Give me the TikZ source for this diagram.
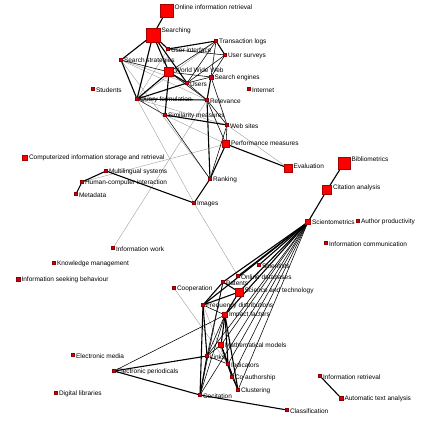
\documentclass[tikz,border=0pt]{standalone}
\usepackage{fontspec}
\setmainfont{Liberation Sans}
\usetikzlibrary{backgrounds}
\definecolor{bigred}{RGB}{255,0,0}
\definecolor{dotred}{RGB}{200,0,30}
\definecolor{edgegray}{RGB}{150,150,150}
\tikzset{
  sq/.style={rectangle, draw=red!65!black, fill=bigred, inner sep=0pt, line width=0.25pt},
  dot/.style={rectangle, draw=red!55!black, fill=dotred, inner sep=0pt, line width=0.25pt},
  lbl/.style={anchor=west, inner sep=0pt, font=\fontsize{6.5}{7}\selectfont},
  thk/.style={line width=1.1pt, black},
  med/.style={line width=0.55pt, black},
  thn/.style={line width=0.35pt, edgegray},
}
\newcommand\nd[5]{\ifnum#4<5\relax
  \node[dot, minimum size=#4pt] (#1) at (#2,#3) {};\else
  \node[sq, minimum size=#4pt] (#1) at (#2,#3) {};\fi
  \node[lbl] (#1l) at ([xshift=1.2pt,yshift=-2.8pt]#1.north east) {#5};}
\newcommand\ed[3]{\draw[#1] (#2.center) -- (#3.center);}
\begin{document}
\begin{tikzpicture}[x=1pt,y=-1pt]
\useasboundingbox (0,0) rectangle (436,436);
\nd{oir}{166.5}{11}{13}{Online information retrieval}
\nd{srch}{153}{35}{14}{Searching}
\nd{ui}{168}{49}{3}{User interface}
\nd{tl}{216}{41}{3}{Transaction logs}
\nd{us}{225}{55}{3}{User surveys}
\nd{ss}{121}{60}{3}{Search strategies}
\nd{www}{169}{72}{9}{World Wide Web}
\nd{usr}{187}{83}{3}{Users}
\nd{se}{211}{77}{4}{Search engines}
\nd{inet}{249}{89}{3}{Internet}
\nd{qf}{137}{99}{3}{Query formulation}
\nd{rel}{207}{100}{3}{Relevance}
\nd{sim}{165}{115}{3}{Similarity measures}
\nd{ws}{227}{125}{3}{Web sites}
\nd{stu}{93}{89}{3}{Students}
\nd{pm}{226}{144}{7}{Performance measures}
\nd{ev}{288}{168}{8}{Evaluation}
\nd{bib}{344}{163}{12}{Bibliometrics}
\nd{ca}{327}{190}{9}{Citation analysis}
\nd{rank}{210}{179}{3}{Ranking}
\nd{img}{194}{203}{3}{Images}
\nd{cisr}{25}{158}{5}{Computerized information storage and retrieval}
\nd{mls}{106}{171}{3}{Multilingual systems}
\nd{hci}{82}{182}{3}{Human-computer interaction}
\nd{meta}{76}{194}{3}{Metadata}
\nd{sci}{308}{222}{5}{Scientometrics}
\nd{ap}{358}{221}{3}{Author productivity}
\nd{ic}{326}{243}{3}{Information communication}
\nd{iw}{113}{248}{3}{Information work}
\nd{km}{54}{263}{3}{Knowledge management}
\nd{isb}{18}{279}{4}{Information seeking behaviour}
\nd{coop}{174}{288}{3}{Cooperation}
\nd{scis}{259}{265}{3}{Scientists}
\nd{odb}{238}{276}{3}{Online databases}
\nd{pat}{223}{282}{3}{Patents}
\nd{sat}{239}{292}{8}{Science and technology}
\nd{fd}{203}{305}{3}{Frequency distributions}
\nd{if}{225}{315}{5}{Impact factors}
\nd{mm}{221}{345}{5}{Mathematical models}
\nd{lnk}{207}{356}{3}{Links}
\nd{ind}{228}{364}{3}{Indicators}
\nd{coa}{232}{377}{3}{Co authorship}
\nd{clu}{238}{390}{3}{Clustering}
\nd{coc}{200}{395}{3}{Cocitation}
\nd{cls}{287}{410}{3}{Classification}
\nd{em}{73}{355}{3}{Electronic media}
\nd{ep}{114}{371}{3}{Electronic periodicals}
\nd{dl}{56}{393}{3}{Digital libraries}
\nd{ir}{320}{376}{3}{Information retrieval}
\nd{ata}{341}{398}{4}{Automatic text analysis}
\begin{pgfonlayer}{background}
% thin gray
\ed{thn}{ss}{rank}\ed{thn}{ss}{rel}\ed{thn}{ss}{usr}\ed{thn}{qf}{ui}\ed{thn}{qf}{tl}
\ed{thn}{qf}{ws}\ed{thn}{ws}{ev}\ed{thn}{hci}{pm}\ed{thn}{iw}{rel}
\ed{thn}{img}{odb}\ed{thn}{coop}{ind}\ed{thn}{fd}{coa}\ed{thn}{qf}{img}\ed{thn}{sim}{pm}
% medium
\ed{med}{ui}{us}\ed{med}{tl}{usr}\ed{med}{tl}{se}\ed{med}{tl}{www}\ed{med}{us}{usr}
\ed{med}{us}{se}\ed{med}{www}{se}\ed{med}{www}{rel}\ed{med}{usr}{rel}\ed{med}{usr}{se}
\ed{med}{se}{ws}\ed{med}{rel}{ws}\ed{med}{rel}{pm}\ed{med}{ws}{pm}\ed{med}{ws}{rank}
\ed{med}{sim}{rank}\ed{med}{qf}{sim}\ed{med}{ss}{www}\ed{med}{ep}{if}\ed{med}{sci}{mm}
\ed{med}{sci}{ind}\ed{med}{sci}{coa}\ed{med}{sci}{clu}\ed{med}{sci}{lnk}\ed{med}{sci}{coc}
\ed{med}{lnk}{mm}\ed{med}{lnk}{ind}\ed{med}{pat}{lnk}\ed{med}{pat}{coc}\ed{med}{ind}{coa}
\ed{med}{coa}{clu}\ed{med}{fd}{if}\ed{med}{if}{lnk}\ed{med}{if}{coc}
% thick
\ed{thk}{oir}{srch}\ed{thk}{srch}{ss}\ed{thk}{srch}{ui}\ed{thk}{srch}{www}\ed{thk}{srch}{usr}
\ed{thk}{srch}{qf}\ed{thk}{ss}{qf}\ed{thk}{ui}{tl}\ed{thk}{tl}{us}\ed{thk}{www}{usr}
\ed{thk}{www}{qf}\ed{thk}{www}{sim}\ed{thk}{usr}{qf}\ed{thk}{qf}{rel}\ed{thk}{se}{rel}
\ed{thk}{rel}{rank}\ed{thk}{pm}{rank}\ed{thk}{rank}{img}\ed{thk}{pm}{ev}\ed{thk}{sim}{ws}
\ed{thk}{img}{mls}\ed{thk}{mls}{hci}\ed{thk}{hci}{meta}\ed{thk}{bib}{ca}\ed{thk}{ca}{sci}
\ed{thk}{ir}{ata}\ed{thk}{coc}{cls}\ed{thk}{ep}{lnk}\ed{thk}{ep}{coc}\ed{thk}{lnk}{coc}
\ed{thk}{sci}{fd}\ed{thk}{sci}{pat}\ed{thk}{sci}{sat}\ed{thk}{sci}{scis}\ed{thk}{sci}{odb}
\ed{thk}{sci}{if}\ed{thk}{fd}{pat}\ed{thk}{fd}{sat}\ed{thk}{pat}{sat}\ed{thk}{fd}{lnk}
\ed{thk}{fd}{coc}\ed{thk}{if}{mm}\ed{thk}{if}{ind}\ed{thk}{mm}{coa}\ed{thk}{mm}{clu}
\ed{thk}{if}{clu}\ed{thk}{sat}{if}
\end{pgfonlayer}
\end{tikzpicture}
\end{document}
